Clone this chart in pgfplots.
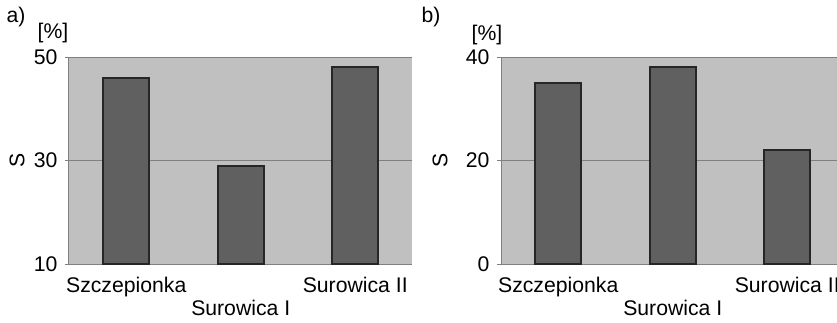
\documentclass[border=0pt]{standalone}
\usepackage{fontspec}
\setmainfont{Liberation Sans}
\usepackage{pgfplots}
\pgfplotsset{compat=1.18}
\definecolor{bgc}{HTML}{C0C0C0}
\definecolor{barc}{HTML}{606060}
\definecolor{axc}{HTML}{808080}
\pgfplotsset{
  panel/.style={
    scale only axis,
    width=171.75pt, height=103.5pt,
    xmin=0, xmax=3,
    axis lines*=left,
    axis line style={axc, line width=0.5pt},
    axis background/.style={fill=bgc},
    ymajorgrids,
    grid style={axc, line width=0.5pt},
    xtick={0.5,1.5,2.5},
    xticklabels={Szczepionka,{\vphantom{Sp}\\Surowica I},Surowica II},
    xticklabel style={align=center, yshift=-1pt},
    major x tick style={draw=none},
    extra x ticks={1,2},
    extra x tick labels={},
    extra x tick style={major tick length=2pt, tick style={axc}},
    tick align=outside,
    major tick length=2pt,
    tick style={axc, line width=0.5pt},
    /pgf/number format/assume math mode=true,
    ybar, bar width=0.4,
    ylabel={S},
    ylabel style={at={(axis description cs:0,0.5)}, anchor=center},
    clip mode=individual,
  },
  barstyle/.style={fill=barc, draw=black!85, line width=0.9pt},
}
\begin{document}
\fontsize{10.6}{11.5}\selectfont
\begin{tikzpicture}
\useasboundingbox (0,0) rectangle (418.5pt,161pt);
\clip (0,0) rectangle (418.5pt,161pt);
\begin{axis}[panel, at={(34.5pt,29pt)}, anchor=south west,
  ymin=10, ymax=50, ytick={10,30,50},
  ylabel style={yshift=26pt}]
  \addplot[barstyle] coordinates {(0.5,46) (1.5,29) (2.5,48)};
  \node[anchor=center] at (rel axis cs:0,1) [xshift=-8pt, yshift=12pt] {[\%]};
  \node[anchor=center] at (rel axis cs:0,1) [xshift=-26.5pt, yshift=20pt] {a)};
\end{axis}
\begin{axis}[panel, at={(250.5pt,29pt)}, anchor=south west,
  ymin=0, ymax=40, ytick={0,20,40},
  ylabel style={yshift=30.5pt}]
  \addplot[barstyle] coordinates {(0.5,35) (1.5,38) (2.5,22)};
  \node[anchor=center] at (rel axis cs:0,1) [xshift=-7pt, yshift=11pt] {[\%]};
  \node[anchor=center] at (rel axis cs:0,1) [xshift=-35pt, yshift=20pt] {b)};
\end{axis}
\end{tikzpicture}
\end{document}
